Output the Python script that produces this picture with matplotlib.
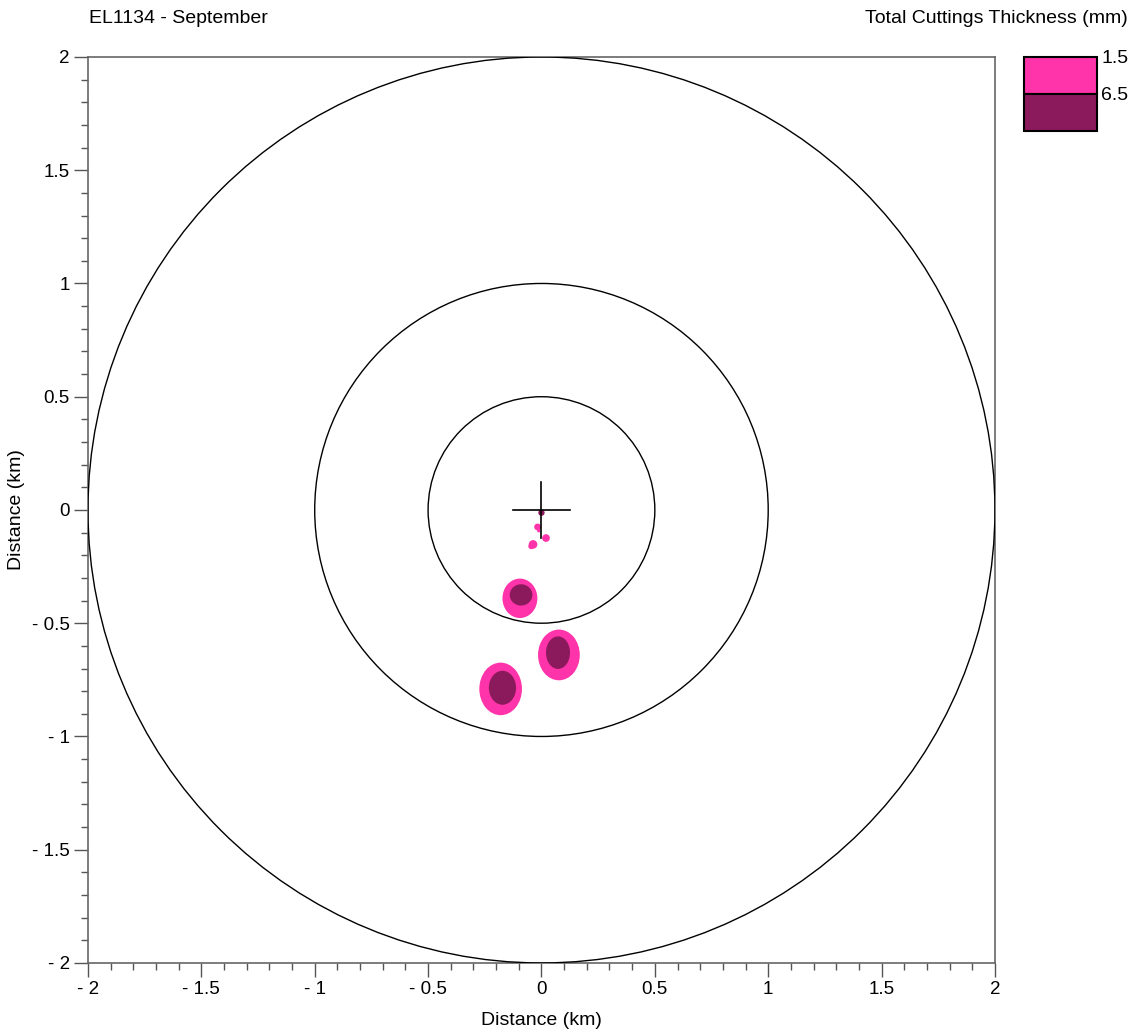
import matplotlib.pyplot as plt
from matplotlib.patches import Ellipse, Circle, Rectangle
from matplotlib.ticker import MultipleLocator, FuncFormatter

plt.rcParams['font.family'] = ['Liberation Sans', 'DejaVu Sans']

# range rings around the well (km)
ring_radii = [0.5, 1.0, 2.0]

# deposit footprints: centre and half-widths of the 1.5 mm and 6.5 mm contours (km)
deposit_x = [-0.095, 0.077, -0.18]
deposit_y = [-0.39, -0.64, -0.79]
outer_rx = [0.077, 0.092, 0.094]
outer_ry = [0.087, 0.112, 0.116]
inner_x = [-0.09, 0.073, -0.172]
inner_y = [-0.375, -0.63, -0.785]
inner_rx = [0.05, 0.053, 0.06]
inner_ry = [0.047, 0.072, 0.075]

# small patches just below the well head
spot_x = [-0.017, 0.02, -0.037, -0.045, -0.012]
spot_y = [-0.075, -0.124, -0.152, -0.16, -0.092]
spot_r = [0.015, 0.017, 0.019, 0.013, 0.007]
core_spot = (0.0, -0.012, 0.014)

levels = ['1.5', '6.5']
level_colors = ['#ff33aa', '#8b1a5c']
cross_arm = 0.125

fig = plt.figure(figsize=(11.38, 10.34), dpi=100)
ax = fig.add_axes([0.0773, 0.0687, 0.797, 0.8762])

for r in ring_radii:
    ax.add_patch(Circle((0, 0), r, fill=False, ec='black', lw=1.0, zorder=3))

for i in range(len(deposit_x)):
    ax.add_patch(Ellipse((deposit_x[i], deposit_y[i]), 2 * outer_rx[i], 2 * outer_ry[i],
                         fc=level_colors[0], ec='none', zorder=2))
    ax.add_patch(Ellipse((inner_x[i], inner_y[i]), 2 * inner_rx[i], 2 * inner_ry[i],
                         fc=level_colors[1], ec='none', zorder=2))

for x, y, r in zip(spot_x, spot_y, spot_r):
    ax.add_patch(Circle((x, y), r, fc=level_colors[0], ec='none', zorder=2))
ax.add_patch(Circle(core_spot[:2], core_spot[2], fc=level_colors[1], ec='none', zorder=2))

ax.plot([-cross_arm, cross_arm], [0, 0], color='black', lw=1.2, zorder=4)
ax.plot([0, 0], [-cross_arm, cross_arm], color='black', lw=1.2, zorder=4)

ax.set_xlim(-2, 2)
ax.set_ylim(-2, 2)
ax.set_aspect('auto')


def fmt(v, pos):
    s = f'{abs(v):g}'
    return '- ' + s if v < 0 else s


for axis in (ax.xaxis, ax.yaxis):
    axis.set_major_locator(MultipleLocator(0.5))
    axis.set_minor_locator(MultipleLocator(0.1))
    axis.set_major_formatter(FuncFormatter(fmt))

ax.tick_params(which='major', direction='out', length=10, width=1, color='#555555',
               labelsize=13.5, pad=3)
ax.tick_params(which='minor', direction='out', length=5, width=1, color='#555555')
for side in ['left', 'bottom', 'right', 'top']:
    ax.spines[side].set_color('#666666')
    ax.spines[side].set_linewidth(1.2)

ax.set_xlabel('Distance (km)', fontsize=14, labelpad=10)
ax.set_ylabel('Distance (km)', fontsize=14, labelpad=5)

fig.text(0.078, 0.982, 'EL1134 - September', fontsize=14, va='center', ha='left')
fig.text(0.991, 0.982, 'Total Cuttings Thickness (mm)', fontsize=14, va='center', ha='right')

# colour key
lax = fig.add_axes([1024 / 1138, 1 - 131 / 1034, 73 / 1138, 74 / 1034])
lax.set_xlim(0, 1)
lax.set_ylim(0, 2)
lax.axis('off')
for k, (lab, col) in enumerate(zip(levels, level_colors)):
    y0 = 1 - k
    lax.add_patch(Rectangle((0, y0), 1, 1, fc=col, ec='black', lw=1.5, clip_on=False))
    lax.text(1.06, 1.95 - k, lab, fontsize=14, va='center', ha='left', clip_on=False)

fig.savefig('out.png', dpi=100)
